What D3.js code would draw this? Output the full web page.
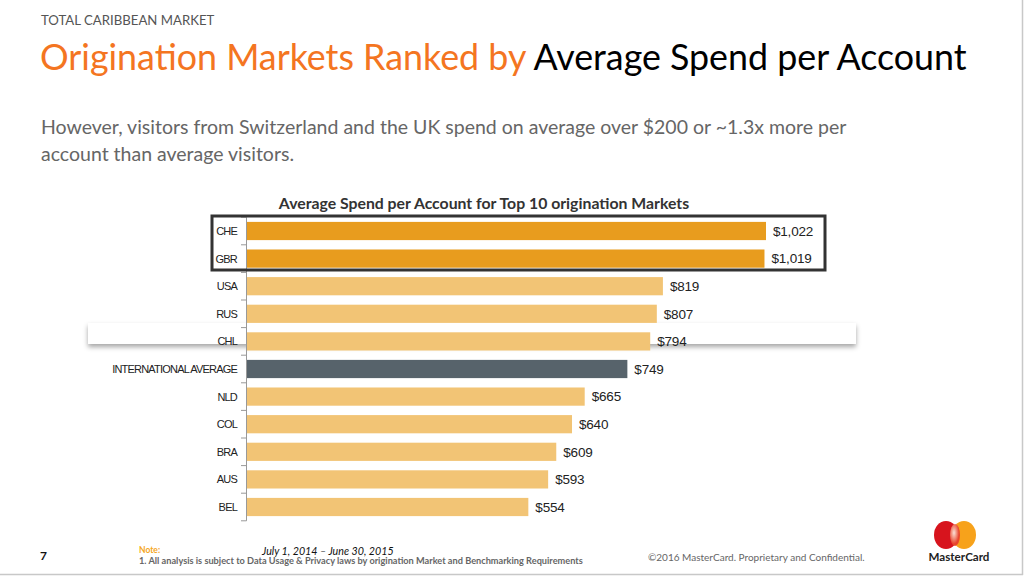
<!DOCTYPE html>
<html><head><meta charset="utf-8">
<script src="https://cdn.jsdelivr.net/npm/d3@7/dist/d3.min.js"></script>
<style>
body{margin:0;background:#fff;}
svg{display:block;}
</style></head>
<body>
<svg id="c" width="1024" height="576"></svg>
<script>
const categories = ["CHE","GBR","USA","RUS","CHL","INTERNATIONAL AVERAGE","NLD","COL","BRA","AUS","BEL"];
const values = [1022,1019,819,807,794,749,665,640,609,593,554];
const groups = ["top","top","other","other","other","avg","other","other","other","other","other"];
const colors = {top:"#E89C1E", other:"#F2C475", avg:"#57636B"};

const svg = d3.select("#c");
const defs = svg.append("defs");
const f = defs.append("filter").attr("id","sh").attr("x","-5%").attr("y","-50%").attr("width","110%").attr("height","250%");
f.append("feDropShadow").attr("dx",0).attr("dy",3).attr("stdDeviation",2.5).attr("flood-color","#000").attr("flood-opacity",0.35);

// slide border
svg.append("line").attr("x1",1022.5).attr("x2",1022.5).attr("y1",0).attr("y2",575).attr("stroke","#c8c8c8").attr("stroke-width",1.5);
svg.append("line").attr("x1",0).attr("x2",1023).attr("y1",574.5).attr("y2",574.5).attr("stroke","#c8c8c8").attr("stroke-width",1.5);

// Header
svg.append("text").attr("x",41).attr("y",25).attr("font-family","Lato").attr("font-size",13.2).attr("fill","#555").text("TOTAL CARIBBEAN MARKET");
const t = svg.append("text").attr("x",40).attr("y",70).attr("font-family","Lato").attr("font-size",35.8);
t.append("tspan").attr("fill","#F47521").text("Origination Markets Ranked by ");
t.append("tspan").attr("fill","#000").text("Average Spend per Account");
const sub = svg.append("text").attr("font-family","Lato").attr("font-size",19.5).attr("fill","#666");
sub.append("tspan").attr("x",41).attr("y",134).text("However, visitors from Switzerland and the UK spend on average over $200 or ~1.3x more per");
sub.append("tspan").attr("x",41).attr("y",161).text("account than average visitors.");

// Chart title
svg.append("text").attr("x",484).attr("y",209).attr("text-anchor","middle").attr("font-family","Lato").attr("font-weight","bold").attr("font-size",15.8).attr("fill","#333").text("Average Spend per Account for Top 10 origination Markets");

// white shadowed box behind CHL row
svg.append("rect").attr("x",88).attr("y",323).attr("width",768).attr("height",21).attr("fill","#fff").attr("filter","url(#sh)");

const x = d3.scaleLinear().domain([0,1022]).range([247,766]);
const y = d3.scaleBand().domain(categories).range([217.2,520.8]).paddingInner(0.34).paddingOuter(0.17);

const g = svg.append("g");
g.selectAll("rect.bar").data(categories).join("rect").attr("class","bar")
  .attr("x",x(0)).attr("y",d=>y(d)).attr("height",y.bandwidth())
  .attr("width",(d,i)=>x(values[i])-x(0)).attr("fill",(d,i)=>colors[groups[i]]);

g.selectAll("text.val").data(categories).join("text").attr("class","val")
  .attr("x",(d,i)=>x(values[i])+7).attr("y",d=>y(d)+y.bandwidth()/2).attr("dy","0.36em")
  .attr("font-family","Liberation Sans, Arial").attr("font-size",13.5).attr("letter-spacing",-0.2).attr("fill","#222")
  .text((d,i)=>d3.format("$,")(values[i]));

// axis
const bounds = d3.range(categories.length+1).map(i=>217.2+i*(520.8-217.2)/categories.length);
g.append("line").attr("x1",x(0)-0.5).attr("x2",x(0)-0.5).attr("y1",bounds[0]).attr("y2",bounds[bounds.length-1]).attr("stroke","#999").attr("stroke-width",1);
g.selectAll("line.tk").data(bounds).join("line").attr("class","tk")
  .attr("x1",x(0)-6).attr("x2",x(0)-0.5).attr("y1",d=>d).attr("y2",d=>d).attr("stroke","#999");
g.selectAll("text.cat").data(categories).join("text").attr("class","cat")
  .attr("x",237).attr("y",d=>y(d)+y.bandwidth()/2).attr("dy","0.36em").attr("text-anchor","end")
  .attr("font-family","Liberation Sans, Arial").attr("font-size",11).attr("letter-spacing",-0.8).attr("fill","#222").text(d=>d);

// highlight box
svg.append("rect").attr("x",212).attr("y",216).attr("width",613).attr("height",54).attr("fill","none").attr("stroke","#333").attr("stroke-width",3);

// Footer
svg.append("text").attr("x",40).attr("y",560).attr("font-family","Lato").attr("font-weight","bold").attr("font-size",12).attr("fill","#111").text("7");
svg.append("text").attr("x",139).attr("y",553).attr("font-family","Lato").attr("font-weight","bold").attr("font-size",8.5).attr("fill","#F5A623").text("Note:");
svg.append("text").attr("x",262).attr("y",555).attr("font-family","Lato").attr("font-style","italic").attr("font-size",10.7).attr("fill","#111").text("July 1, 2014 \u2013 June 30, 2015");
svg.append("text").attr("x",139).attr("y",564).attr("font-family","Lato").attr("font-weight","bold").attr("font-size",9.2).attr("fill","#666").text("1. All analysis is subject to Data Usage & Privacy laws by origination Market and Benchmarking Requirements");
svg.append("text").attr("x",648).attr("y",561).attr("font-family","Lato").attr("font-size",10).attr("fill","#666").text("\u00A92016 MasterCard. Proprietary and Confidential.");

// logo
const rg = defs.append("radialGradient").attr("id","lg").attr("cx","40%").attr("cy","40%");
rg.append("stop").attr("offset","0%").attr("stop-color","#fbe1d6");
rg.append("stop").attr("offset","100%").attr("stop-color","#e8452c");
svg.append("ellipse").attr("cx",946).attr("cy",535).attr("rx",12).attr("ry",14).attr("fill","#d7141d");
svg.append("ellipse").attr("cx",964).attr("cy",535).attr("rx",12).attr("ry",14).attr("fill","#f7a21b");
svg.append("ellipse").attr("cx",955).attr("cy",535).attr("rx",5).attr("ry",11).attr("fill","url(#lg)");
svg.append("text").attr("x",959).attr("y",561).attr("text-anchor","middle").attr("font-family","Lato").attr("font-weight","bold").attr("font-size",11.6).attr("fill","#222").text("MasterCard");
</script>
</body></html>
